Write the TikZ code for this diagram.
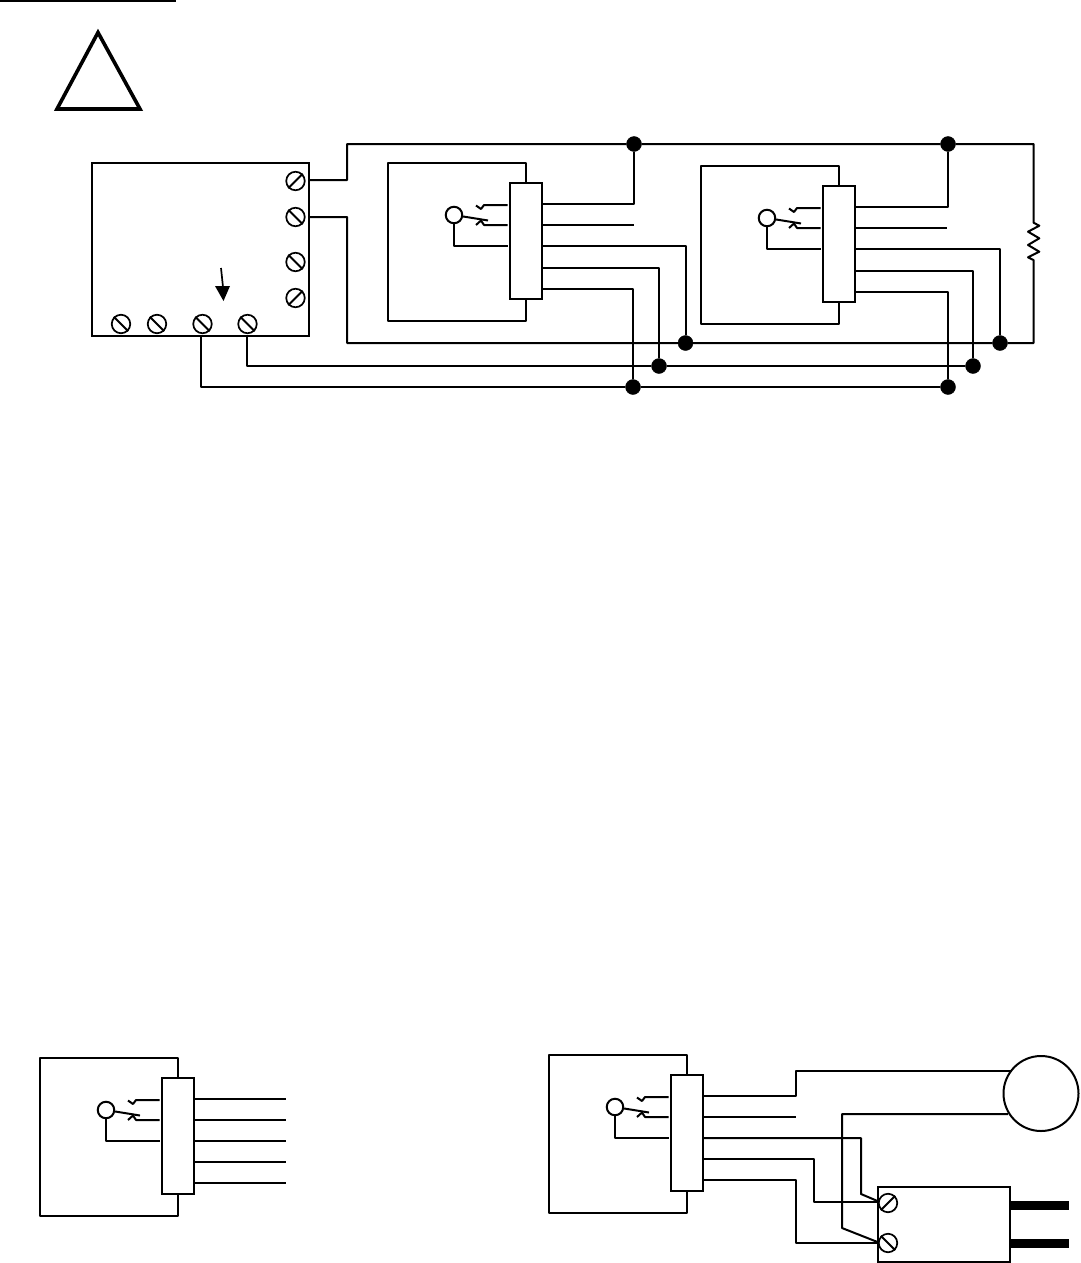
\documentclass[tikz,border=0pt]{standalone}
\usetikzlibrary{calc}
\tikzset{
  wire/.style={line width=2pt,line join=round},
  frameline/.style={line width=2pt,line join=round},
  heavybox/.style={draw,line width=2.4pt,fill=white,inner sep=0pt},
  junction/.style={circle,fill=black,draw=black,inner sep=0pt,minimum size=15pt},
  screwhead/.style={circle,draw,line width=1.7pt,fill=white,inner sep=0pt,minimum size=18.5pt},
  coil/.style={circle,draw,line width=2pt,fill=white,inner sep=0pt,minimum size=16.5pt},
  blade/.style={fill=black,draw=none}
}
% screw: name, x, y, slash start angle
\newcommand{\myscrew}[4]{%
  \node[screwhead] (#1) at (#2,#3) {};
  \draw[line width=2pt] (#1.#4) -- (#1.\the\numexpr#4+180\relax);
}
% relay: prefix, dx, dy
\newcommand{\myrelay}[3]{%
  \begin{scope}[shift={(#2,#3)}]
    \node[heavybox,minimum width=32pt,minimum height=116pt] (#1box) at (526,241) {};
    \node[coil] (#1coil) at (454,215) {};
    \coordinate (#1ft) at (526,163);
    \coordinate (#1fb) at (526,321);
    \coordinate (#1w1) at (634,204);
    \coordinate (#1w2) at (634,225);
    \coordinate (#1w3) at (686,246);
    \coordinate (#1w4) at (659,268);
    \coordinate (#1w5) at (634,289);
    \coordinate (#1pa) at (507.5,205);
    \coordinate (#1pb) at (507.5,225);
    \coordinate (#1pc) at (507.5,246);
    \coordinate (#1lever) at (488,220.5);
    \draw[frameline] (#1box.north) -- (#1ft) -- (388,163) -- (388,321) -- (#1fb) -- (#1box.south);
    \draw[wire] (#1pa) -- (484,205) -- (481,209) -- (476,205.5);
    \draw[wire] (#1pb) -- (484,225) -- (481,220.5) -- (476,225);
    \draw[wire] (#1coil) -- (#1lever);
    \draw[wire] (#1coil.south) |- (#1pc);
  \end{scope}
}
\begin{document}
\begin{tikzpicture}[x=1pt,y=-1pt]
\useasboundingbox (0,0) rectangle (1080,1263);
\fill[white] (0,0) rectangle (1080,1263);
% header rule
\coordinate (ruleL) at (0,1);
\coordinate (ruleR) at (176,1);
\draw[line width=2pt] (ruleL) -- (ruleR);
% warning triangle
\draw[line width=3.6pt,miter limit=10] (98,32.5) -- (140,109) -- (57,109) -- cycle;
% controller
\node[draw,line width=2.4pt,fill=white,minimum width=217pt,minimum height=173pt,inner sep=0pt] (ctrl) at (200.5,249.5) {};
\myscrew{sa}{295.5}{181}{45}
\myscrew{sb}{295.5}{217}{135}
\myscrew{sc}{295.5}{262}{135}
\myscrew{sd}{295.5}{298}{45}
\myscrew{se}{121}{324}{135}
\myscrew{sf}{157}{324}{135}
\myscrew{sg}{202.5}{324}{135}
\myscrew{sh}{247.5}{324}{135}
\coordinate (arrowS) at (221,268);
\coordinate (arrowE) at (223,287);
\draw[line width=1.7pt] (arrowS) -- (arrowE);
\fill (215,286) -- (230,286) -- (223.5,301) -- cycle;
% relays
\myrelay{ra}{0}{0}
\myrelay{rb}{313}{3}
\myrelay{rc}{-348}{895}
\myrelay{rd}{161}{892}
% junctions
\node[junction] (ja) at (634,144) {};
\node[junction] (jb) at (948,144) {};
\node[junction] (jc) at (685.5,343) {};
\node[junction] (jd) at (1000,343) {};
\node[junction] (je) at (659,366) {};
\node[junction] (jf) at (973,366) {};
\node[junction] (jg) at (633,387) {};
\node[junction] (jh) at (948,387) {};
% top-diagram bus wires
\coordinate (ctrlA) at (309,180);
\coordinate (ctrlB) at (309,217);
\coordinate (busTL) at (347,144);
\coordinate (busTR) at (1033.5,144);
\coordinate (busBR) at (1033.5,343);
\coordinate (busBL) at (347,343);
\coordinate (resT) at (1033.5,222.7);
\coordinate (resB) at (1033.5,260);
\coordinate (ctrlG) at (201,336);
\coordinate (ctrlH) at (247,336);
\draw[wire] (ctrlA) -- (347,180) -- (busTL) -- (ja) -- (jb) -- (busTR) -- (resT)
  -- (1039.3,225.7) -- (1028,231.7) -- (1039.3,238.3) -- (1028,245) -- (1039.3,251.7) -- (1028,257.3) -- (resB)
  -- (busBR) -- (jd) -- (jc) -- (busBL) -- (347,217) -- (ctrlB);
\draw[wire] (ctrlH) |- (je);
\draw[wire] (je) -- (jf);
\draw[wire] (ctrlG) |- (jg);
\draw[wire] (jg) -- (jh);
% relay A wires
\draw[wire] (rabox.east |- raw1) -| (ja);
\draw[wire] (rabox.east |- raw2) -- (raw2);
\draw[wire] (rabox.east |- raw3) -| (jc);
\draw[wire] (rabox.east |- raw4) -| (je);
\draw[wire] (rabox.east |- raw5) -| (jg);
% relay B wires
\draw[wire] (rbbox.east |- rbw1) -| (jb);
\draw[wire] (rbbox.east |- rbw2) -- (rbw2);
\draw[wire] (rbbox.east |- rbw3) -| (jd);
\draw[wire] (rbbox.east |- rbw4) -| (jf);
\draw[wire] (rbbox.east |- rbw5) -| (jh);
% relay C free leads
\foreach \k/\yy in {1/1099,2/1120,3/1141,4/1162,5/1183}{
  \coordinate (rcend\k) at (286,\yy);
  \draw[wire] (rcbox.east |- rcend\k) -- (rcend\k);
}
% fan/motor and plug
\node[circle,draw,line width=2pt,fill=white,minimum size=75pt,inner sep=0pt] (motor) at (1041,1093.5) {};
\node[draw,line width=2.4pt,fill=white,minimum width=132pt,minimum height=75pt,inner sep=0pt] (plug) at (944,1224.5) {};
\coordinate (plugA) at (877.5,1202);
\coordinate (plugB) at (877.5,1243);
\coordinate (plugC) at (877.5,1242);
\coordinate (plugD) at (877.5,1201);
\draw[wire] (rdbox.east |- 0,1096) -- (796,1096) -- (796,1071) -- (1011,1071);
\draw[wire] (rdbox.east |- 0,1117) -- (796,1117);
\draw[wire] (rdbox.east |- 0,1138) -- (861,1138) -- (861,1194) -- (plugD);
\draw[wire] (rdbox.east |- 0,1159) -- (814,1159) -- (814,1202) -- (plugA);
\draw[wire] (rdbox.east |- 0,1180) -- (796,1180) -- (796,1243) -- (plugB);
\draw[wire] (1008,1114) -- (842,1114) -- (842,1228) -- (plugC);
\myscrew{si}{888}{1203}{45}
\myscrew{sj}{888}{1243}{135}
\fill[blade] (1010,1201) rectangle (1068.5,1210);
\fill[blade] (1010,1239) rectangle (1068.5,1248);
\end{tikzpicture}
\end{document}
